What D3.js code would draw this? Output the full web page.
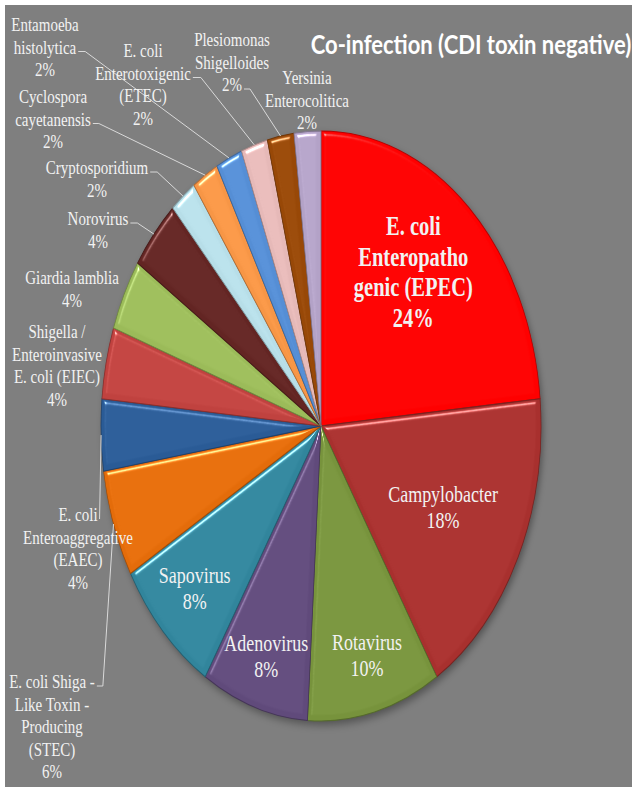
<!DOCTYPE html>
<html lang="en">

<head>
  <meta charset="UTF-8">
  <title>Co-infection (CDI toxin negative)</title>
  <style>
    body { margin: 0; background: #fff; }
    svg { display: block; }
  </style>
</head>

<body>
  <script src="https://cdnjs.cloudflare.com/ajax/libs/d3/7.8.5/d3.min.js"></script>
  <script>

    // data: number of cases per organism (percentages are computed from these)
    let categories = [
      'E. coli Enteropathogenic (EPEC)', 'Campylobacter', 'Rotavirus', 'Adenovirus', 'Sapovirus',
      'E. coli Shiga-Like Toxin-Producing (STEC)', 'E. coli Enteroaggregative (EAEC)',
      'Shigella / Enteroinvasive E. coli (EIEC)', 'Giardia lamblia', 'Norovirus', 'Cryptosporidium',
      'Cyclospora cayetanensis', 'Entamoeba histolytica', 'E. coli Enterotoxigenic (ETEC)',
      'Plesiomonas Shigelloides', 'Yersinia Enterocolitica'
    ]
    let counts = [12, 9, 5, 4, 4, 3, 2, 2, 2, 2, 1, 1, 1, 1, 1, 1]

    // how each label is broken into lines in the picture
    let labelLines = [
      ['E. coli', 'Enteropatho', 'genic (EPEC)'],
      ['Campylobacter'],
      ['Rotavirus'],
      ['Adenovirus'],
      ['Sapovirus'],
      ['E. coli Shiga -', 'Like Toxin -', 'Producing', '(STEC)'],
      ['E. coli', 'Enteroaggregative', '(EAEC)'],
      ['Shigella /', 'Enteroinvasive', 'E. coli (EIEC)'],
      ['Giardia lamblia'],
      ['Norovirus'],
      ['Cryptosporidium'],
      ['Cyclospora', 'cayetanensis'],
      ['Entamoeba', 'histolytica'],
      ['E. coli', 'Enterotoxigenic', '(ETEC)'],
      ['Plesiomonas', 'Shigelloides'],
      ['Yersinia', 'Enterocolitica']
    ]

    let colors = ['#ff0000', '#a8302e', '#77933c', '#604a7b', '#31859c', '#e46c0a', '#2a5b96',
      '#c0423f', '#9bbb59', '#632523', '#b7dee8', '#f79646', '#558ed5', '#e6b9b8', '#984807', '#b3a2c7']

    let width = 632
    let height = 787
    let cx = 321, cy = 426, rx = 220, ry = 295
    let k = ry / rx
    let stretch = 1.3   // the picture is stretched vertically, text too
    let serif = 'Liberation Serif, Times New Roman, Tinos, DejaVu Serif, serif'

    // label layout: inside labels sit on a radius fraction (+ small nudge), outside ones at x/y of first line
    let inside = {
      0: { f: 0.67, dx: -7, dy: -8 },
      1: { f: 0.62, dx: 0, dy: 0 },
      2: { f: 0.8, dx: 3, dy: 0 },
      3: { f: 0.82, dx: 0, dy: 0 },
      4: { f: 0.8, dx: 0, dy: -2 }
    }
    let outside = {
      5: { x: 52, y: 682, leader: 0, stub: 6 },
      6: { x: 78, y: 515, leader: 0, stub: 0 },
      7: { x: 57, y: 332 },
      8: { x: 72, y: 278 },
      9: { x: 98, y: 219, leader: 0, stub: 7 },
      10: { x: 97, y: 168, leader: 0, stub: 7 },
      11: { x: 53, y: 97, leader: 1, stub: 6 },
      12: { x: 45, y: 25, leader: 1, stub: 7 },
      13: { x: 143, y: 51, leader: 1, stub: 8 },
      14: { x: 232, y: 40, leader: 2, stub: 6 },
      15: { x: 307, y: 78 }
    }

    let total = d3.sum(counts)
    let pct = counts.map(d => Math.round(d / total * 100) + '%')

    let svg = d3.select('body')
      .append('svg')
      .attr('width', width)
      .attr('height', height)

    svg.append('rect')
      .attr('x', 5).attr('y', 5)
      .attr('width', width - 5).attr('height', height - 5)
      .attr('fill', '#7f7f7f')

    let defs = svg.append('defs')
    let bevel = defs.append('filter').attr('id', 'bevel')
      .attr('color-interpolation-filters', 'sRGB')
      .attr('x', '-10%').attr('y', '-10%').attr('width', '120%').attr('height', '120%')
    bevel.append('feGaussianBlur').attr('in', 'SourceAlpha').attr('stdDeviation', 2).attr('result', 'blur')
    let spec = bevel.append('feSpecularLighting').attr('in', 'blur')
      .attr('surfaceScale', 4).attr('specularConstant', 0.7).attr('specularExponent', 35)
      .attr('lighting-color', '#ffffff').attr('result', 'spec')
    spec.append('feDistantLight').attr('azimuth', 235).attr('elevation', 40)
    bevel.append('feComposite').attr('in', 'spec').attr('in2', 'SourceAlpha').attr('operator', 'in').attr('result', 'specIn')
    bevel.append('feComposite').attr('in', 'SourceGraphic').attr('in2', 'specIn')
      .attr('operator', 'arithmetic').attr('k1', 0).attr('k2', 1).attr('k3', 1).attr('k4', 0)

    let shadow = defs.append('filter').attr('id', 'shadow')
      .attr('x', '-10%').attr('y', '-10%').attr('width', '120%').attr('height', '120%')
    shadow.append('feGaussianBlur').attr('stdDeviation', 3)

    let pie = d3.pie().sort(null).value(d => d)
    let arcs = pie(counts)
    let arc = d3.arc().innerRadius(0).outerRadius(rx)

    let g = svg.append('g')
      .attr('transform', `translate(${cx},${cy}) scale(1,${k})`)

    // soft shadow under the pie
    g.append('circle')
      .attr('cx', 2).attr('cy', 3).attr('r', rx)
      .attr('fill', '#000').attr('opacity', 0.35)
      .attr('filter', 'url(#shadow)')

    g.selectAll('.slice')
      .data(arcs)
      .enter()
      .append('path')
      .attr('class', 'slice')
      .attr('d', arc)
      .attr('fill', (d, i) => colors[i])
      .attr('stroke', (d, i) => d3.color(colors[i]).darker(0.9))
      .attr('stroke-width', 0.8)
      .attr('filter', 'url(#bevel)')

    // point on the elliptical rim at a given angle, in page pixels
    function rim(a, f) {
      return [cx + rx * f * Math.sin(a), cy - ry * f * Math.cos(a)]
    }

    function addLines(x, y, lines, size, lh, weight) {
      let nodes = []
      lines.forEach((t, j) => {
        let n = svg.append('text')
          .attr('transform', `translate(${x},${y + j * lh}) scale(1,${stretch})`)
          .attr('text-anchor', 'middle')
          .attr('dominant-baseline', 'central')
          .style('font-family', serif)
          .attr('font-size', size)
          .attr('font-weight', weight || 'normal')
          .attr('fill', '#f2f2f2')
          .text(t)
        nodes.push(n)
      })
      return nodes
    }

    // labels inside the big slices
    Object.keys(inside).forEach(key => {
      let i = +key
      let o = inside[key]
      let d = arcs[i]
      let lines = labelLines[i].concat([pct[i]])
      let big = i === 0
      let lh = big ? 30.5 : 26
      let p = rim((d.startAngle + d.endAngle) / 2, o.f)
      let y0 = p[1] + o.dy - (lines.length - 1) * lh / 2
      addLines(p[0] + o.dx, y0, lines, big ? 20.5 : 18, lh, big ? 'bold' : 'normal')
    })

    // labels outside with leader lines
    let lineG = svg.append('g')
    Object.keys(outside).forEach(key => {
      let i = +key
      let o = outside[key]
      let lh = 22.5
      let nodes = addLines(o.x, o.y, labelLines[i].concat([pct[i]]), 15, lh)
      if (o.leader === undefined) return
      let w = nodes[o.leader].node().getComputedTextLength()
      let sx = o.x + w / 2 + 2
      let sy = o.y + o.leader * lh + 4
      let end = rim((arcs[i].startAngle + arcs[i].endAngle) / 2, 1)
      lineG.append('polyline')
        .attr('points', [[sx, sy], [sx + o.stub, sy], end].map(p => p.join(',')).join(' '))
        .attr('fill', 'none')
        .attr('stroke', '#d9d9d9')
        .attr('stroke-width', 1)
    })

    // title
    svg.append('text')
      .attr('transform', `translate(471,43) scale(1,1.25)`)
      .attr('text-anchor', 'middle')
      .attr('dominant-baseline', 'central')
      .style('font-family', 'Lato, Open Sans, sans-serif')
      .attr('font-weight', 'bold')
      .attr('font-size', 22)
      .attr('fill', '#ffffff')
      .text('Co-infection (CDI toxin negative)')

  </script>
</body>

</html>
